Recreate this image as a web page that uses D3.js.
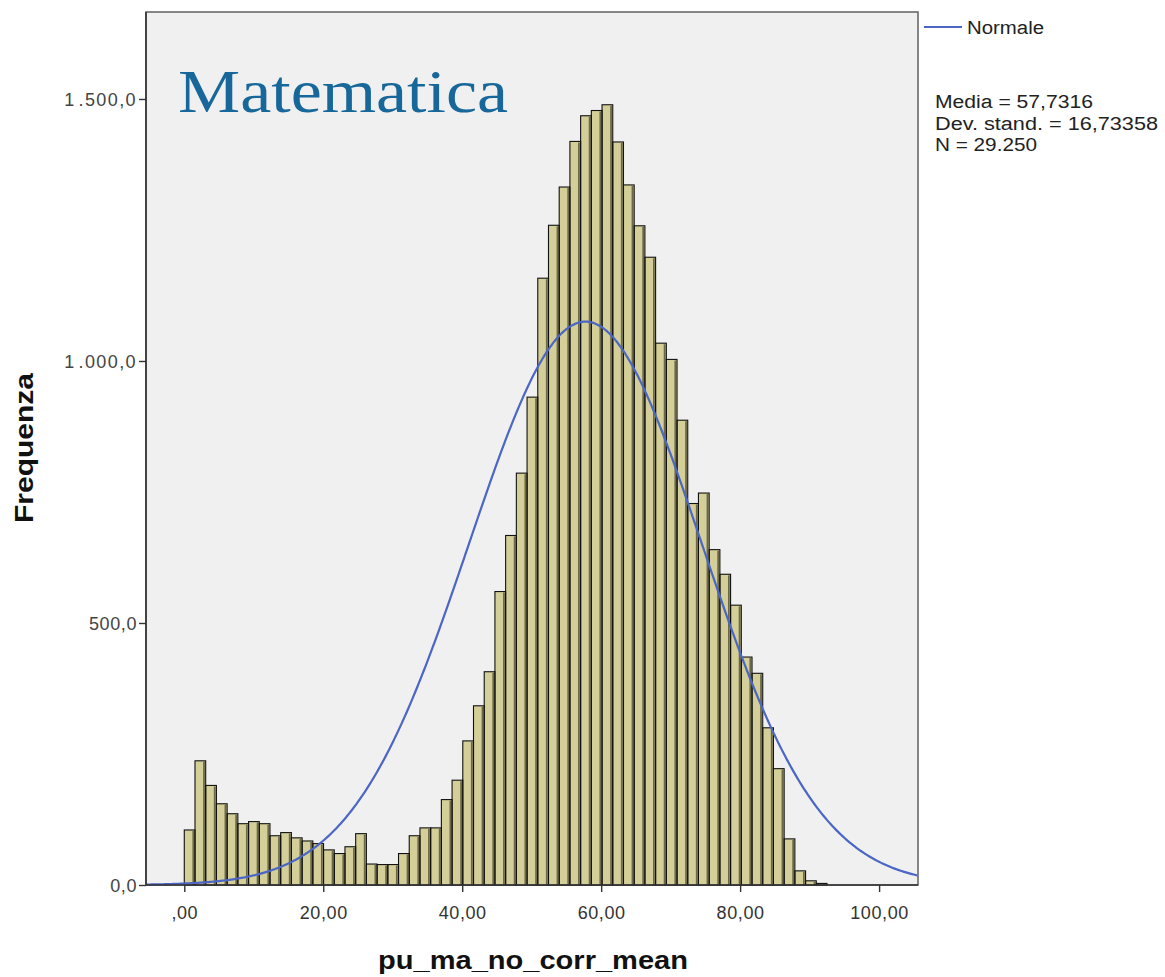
<!DOCTYPE html>
<html>
<head>
<meta charset="utf-8">
<script src="https://cdn.jsdelivr.net/npm/d3@7"></script>
<style>
  html, body { margin: 0; padding: 0; background: #ffffff; }
  svg { display: block; }
</style>
</head>
<body>
<script>
// Histogram of pu_ma_no_corr_mean with fitted normal curve
const binStart = 0;
const binWidth = 1.5417;
const counts = [
  105, 237, 190, 155, 136, 117, 121, 117, 94, 100,
  90, 84, 79, 67, 60, 73, 98, 40, 39, 39,
  60, 94, 109, 109, 163, 200, 275, 342, 407, 560,
  667, 786, 931, 1158, 1259, 1332, 1419, 1468, 1478, 1489,
  1418, 1336, 1258, 1198, 1034, 1003, 887, 728, 748, 640,
  593, 534, 435, 404, 300, 222, 88, 27, 8, 3
];
const stats = { mean: 57.7316, sd: 16.73358, n: 29250 };

const xTickValues = [0, 20, 40, 60, 80, 100];
const xTickLabels = [",00", "20,00", "40,00", "60,00", "80,00", "100,00"];
const yTickValues = [0, 500, 1000, 1500];
const yTickLabels = ["0,0", "500,0", "1.000,0", "1.500,0"];

const statLines = ["Media = 57,7316", "Dev. stand. = 16,73358", "N = 29.250"];
const legendLabel = "Normale";
const chartTitle = "Matematica";
const xTitle = "pu_ma_no_corr_mean";
const yTitle = "Frequenza";

const W = 1165, H = 977;
const plot = { left: 146, right: 918, top: 12, bottom: 885 };

const svg = d3.select("body").append("svg")
  .attr("width", W).attr("height", H);

const x = d3.scaleLinear().domain([-5.51, 105.6]).range([plot.left, plot.right]);
const y = d3.scaleLinear().domain([0, 1666]).range([plot.bottom, plot.top]);

// plot background and frame
svg.append("rect")
  .attr("x", plot.left).attr("y", plot.top)
  .attr("width", plot.right - plot.left).attr("height", plot.bottom - plot.top)
  .attr("fill", "#f0f0f0").attr("stroke", "#6a6a6a").attr("stroke-width", 1.6);

// bars
const bins = counts.map((c, i) => ({
  x0: binStart + i * binWidth,
  x1: binStart + (i + 1) * binWidth,
  count: c
}));

const barG = svg.append("g");
barG.selectAll("rect.bar").data(bins).enter().append("rect")
  .attr("class", "bar")
  .attr("x", d => x(d.x0))
  .attr("y", d => y(d.count))
  .attr("width", d => x(d.x1) - x(d.x0))
  .attr("height", d => y(0) - y(d.count))
  .attr("fill", "#d4cf98");

// darker shading along the right edge of each bar
barG.selectAll("line.shade").data(bins).enter().append("line")
  .attr("class", "shade")
  .attr("x1", d => x(d.x1) - 1.7).attr("x2", d => x(d.x1) - 1.7)
  .attr("y1", d => y(d.count) + 1).attr("y2", y(0))
  .attr("stroke", "#6c6948").attr("stroke-width", 1.8);

barG.selectAll("rect.outline").data(bins).enter().append("rect")
  .attr("class", "outline")
  .attr("x", d => x(d.x0))
  .attr("y", d => y(d.count))
  .attr("width", d => x(d.x1) - x(d.x0))
  .attr("height", d => y(0) - y(d.count))
  .attr("fill", "none")
  .attr("stroke", "#111").attr("stroke-width", 1.1);

// normal curve scaled to counts per bin
const pdfScale = stats.n * binWidth / (stats.sd * Math.sqrt(2 * Math.PI));
const normal = v => pdfScale * Math.exp(-0.5 * Math.pow((v - stats.mean) / stats.sd, 2));
const curveXs = d3.range(x.domain()[0], x.domain()[1] + 0.001, 0.25);
svg.append("path")
  .datum(curveXs)
  .attr("fill", "none")
  .attr("stroke", "#4b66c4")
  .attr("stroke-width", 2.2)
  .attr("d", d3.line().x(v => x(v)).y(v => y(normal(v))).curve(d3.curveMonotoneX));

// axes
const font = "'Liberation Sans', Arial, sans-serif";

const xAxis = d3.axisBottom(x)
  .tickValues(xTickValues)
  .tickFormat((d, i) => xTickLabels[i])
  .tickSize(7).tickSizeOuter(0);
const gx = svg.append("g").attr("transform", `translate(0,${plot.bottom})`).call(xAxis);
gx.select(".domain").attr("stroke", "#333").attr("stroke-width", 1.6)
  .attr("d", `M${plot.left},0H${plot.right}`);
gx.selectAll(".tick line").attr("stroke", "#333").attr("stroke-width", 1.4);
gx.selectAll(".tick text")
  .attr("font-family", font).attr("font-size", 18).attr("fill", "#333")
  .attr("dy", 0).attr("y", 34).attr("letter-spacing", 0.6);

const yAxis = d3.axisLeft(y)
  .tickValues(yTickValues)
  .tickFormat((d, i) => yTickLabels[i])
  .tickSize(7).tickSizeOuter(0);
const gy = svg.append("g").attr("transform", `translate(${plot.left},0)`).call(yAxis);
gy.select(".domain").attr("stroke", "#333").attr("stroke-width", 1.6)
  .attr("d", `M0,${plot.top}V${plot.bottom}`);
gy.selectAll(".tick line").attr("stroke", "#333").attr("stroke-width", 1.4);
gy.selectAll(".tick text")
  .attr("font-family", font).attr("font-size", 18).attr("fill", "#444")
  .attr("x", -9).attr("dy", "0.35em").attr("letter-spacing", 0.6)
  .each(function () {
    // thousands labels: a little more room around the separator
    const t = d3.select(this);
    const label = t.text();
    if (label.startsWith("1.")) {
      t.text(null).attr("letter-spacing", 1.4);
      t.append("tspan").text("1");
      t.append("tspan").attr("dx", 3).text(label.slice(1));
    }
  });

// axis titles
svg.append("text")
  .attr("x", 533).attr("y", 969)
  .attr("text-anchor", "middle")
  .attr("font-family", font).attr("font-weight", "bold").attr("font-size", 25)
  .attr("fill", "#111")
  .attr("textLength", 310).attr("lengthAdjust", "spacingAndGlyphs")
  .text(xTitle);

svg.append("text")
  .attr("transform", "translate(33,448) rotate(-90)")
  .attr("text-anchor", "middle")
  .attr("font-family", font).attr("font-weight", "bold").attr("font-size", 25)
  .attr("fill", "#111")
  .attr("textLength", 150).attr("lengthAdjust", "spacingAndGlyphs")
  .text(yTitle);

// chart title inside the plot
svg.append("text")
  .attr("x", 178).attr("y", 112)
  .attr("font-family", "'Liberation Serif', 'Times New Roman', serif")
  .attr("font-size", 62)
  .attr("fill", "#17679a")
  .attr("textLength", 330).attr("lengthAdjust", "spacingAndGlyphs")
  .text(chartTitle);

// legend
svg.append("line")
  .attr("x1", 924).attr("x2", 962).attr("y1", 27).attr("y2", 27)
  .attr("stroke", "#4b66c4").attr("stroke-width", 2);
svg.append("text")
  .attr("x", 967).attr("y", 34)
  .attr("font-family", font).attr("font-size", 18).attr("fill", "#222")
  .attr("textLength", 77).attr("lengthAdjust", "spacingAndGlyphs")
  .text(legendLabel);

const statWidths = [158, 223, 102];
svg.append("g").selectAll("text").data(statLines).enter().append("text")
  .attr("x", 935)
  .attr("y", (d, i) => 108 + i * 21.5)
  .attr("font-family", font).attr("font-size", 18).attr("fill", "#222")
  .attr("textLength", (d, i) => statWidths[i]).attr("lengthAdjust", "spacingAndGlyphs")
  .text(d => d);
</script>
</body>
</html>
